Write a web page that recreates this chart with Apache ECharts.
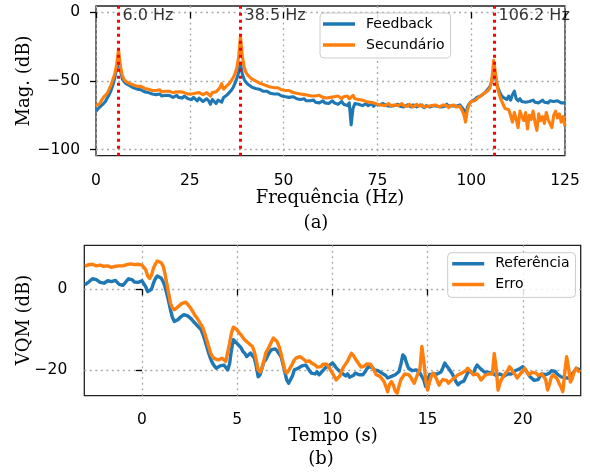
<!DOCTYPE html>
<html><head><meta charset="utf-8">
<script src="https://cdn.jsdelivr.net/npm/echarts@6/dist/echarts.min.js"></script>
<style>html,body{margin:0;padding:0;background:#fff}#c{width:590px;height:475px}</style>
</head><body><div id="c"></div>
<script>
// ---------- (a) spectrum, 0.5 Hz spacing from 0 Hz ----------
const freqStep = 0.5;
const feedback = [
-72,-70.5,-69,-68.5,-66.5,-65,-62.5,-60,-57,-53,
-48,-41,-32,-42,-48.5,-50.5,-52,-53,-53.5,-54.5,
-55,-55.5,-56,-57,-56.5,-57.5,-58,-57.5,-58.5,-59,
-59.5,-59,-60,-60.5,-59.5,-61,-60,-60.5,-61.5,-60.5,
-61,-62,-61,-60.5,-62,-61.5,-62.5,-61,-62,-63,
-62,-63.5,-62,-63,-64.5,-62.5,-63.5,-65,-64,-63,
-64.5,-67,-63.5,-65,-66.5,-64,-63,-65.5,-62,-61,
-60,-58.5,-57,-55,-52,-48.5,-44,-37,-45,-49,
-51,-52.5,-53.5,-54.5,-55,-55.5,-56.5,-56,-57,-57.5,
-58,-57.5,-58.5,-59,-58.5,-59.5,-60,-59.5,-60.5,-61,
-60.5,-61.5,-61,-62,-62.5,-61.5,-62.5,-63,-62.5,-63.5,
-64,-63,-64.5,-63.5,-64.5,-65,-64,-65.5,-64.5,-66,
-65,-64.5,-66,-65,-66.5,-65.5,-64.5,-66,-65.5,-67,
-66,-65,-67,-66.5,-68,-66,-82,-70,-66.5,-67.5,
-67,-66,-68,-67.5,-66.5,-68,-67,-66.5,-68.5,-67,
-66.5,-67.5,-68,-66.5,-67.5,-68,-67,-68.5,-67.5,-68,
-68,-67,-68.5,-67.5,-69,-68,-67.5,-68.5,-69,-67.5,
-68,-69,-68,-67.5,-68.5,-69.5,-68,-67.5,-69,-68.5,
-68,-69,-68.5,-67.5,-69,-68,-68.5,-67,-68.5,-69,
-68,-67.5,-68.5,-69,-67.5,-67,-71,-76,-69,-66.5,
-65,-64,-63.5,-62,-62.5,-61,-60,-59,-58,-56,
-54,-50,-41,-48,-54,-57.5,-60.5,-62,-63,-63.5,
-61,-64,-60,-57.5,-63,-64.5,-63,-65,-64,-65.5,
-64.5,-65,-66,-64,-65.5,-64.5,-66,-65,-64,-65.5,
-65,-66,-64.5,-65.5,-65,-66,-64.5,-65.5,-66,-65,
-66];
const secundario = [
-68,-67,-66.5,-64,-62,-60.5,-59,-56,-53,-49,
-45,-38,-27,-39,-46,-49,-50.5,-51.5,-52,-52.5,
-53,-53.5,-54,-54.5,-54,-55,-55.5,-55,-56,-56.5,
-57,-56.5,-57,-57.5,-56.5,-58,-57,-57.5,-58,-57.5,
-58,-58.5,-57.5,-58,-59,-58,-59,-58.5,-58,-59.5,
-58.5,-59.5,-58.5,-59,-60,-58.5,-59.5,-60,-59,-58.5,
-59.5,-61,-58.5,-59,-58,-57,-55,-52,-56,-54.5,
-54,-52,-50,-48,-45,-41,-33,-17,-32,-40,
-44,-46,-47,-48.5,-49,-50,-50.5,-51.5,-52,-52.5,
-53,-53.5,-53.5,-54.5,-54,-55,-55.5,-55,-56,-56.5,
-56.5,-57,-57.5,-57,-58,-58.5,-58,-59,-58.5,-59.5,
-59,-60,-59.5,-60.5,-60,-61,-60.5,-61,-61.5,-60.5,
-61.5,-62,-61,-62.5,-61.5,-62,-63,-61.5,-62.5,-61,
-62,-63,-61.5,-62.5,-61,-63,-62,-60.5,-63,-62.5,
-63.5,-62.5,-64,-63,-65,-64,-65.5,-64.5,-66,-65.5,
-67,-66,-67.5,-66.5,-68,-67,-66.5,-68,-67,-67.5,
-67,-68,-67.5,-66.5,-68,-67.5,-68.5,-67,-68,-69,
-68,-67,-68.5,-68,-67.5,-69,-68,-68.5,-67.5,-68,
-68.5,-67.5,-68,-69,-68,-67.5,-68.5,-68,-69.5,-68,
-68.5,-67.5,-69,-68,-68.5,-69,-74,-80,-71,-67,
-65,-64,-64.5,-63,-62,-61,-60,-59,-58,-57,
-55,-49,-35,-45,-55,-60,-64,-67,-70,-69,
-71,-75,-80,-73,-78,-84,-72,-76,-79,-73,
-85,-75,-78,-72,-80,-86,-74,-79,-76,-81,
-73,-78,-79,-84,-75,-72,-77,-74,-80,-76,
-83];
const peakFreqs = [6.0, 38.5, 106.2];
const freqTicks = [0, 25, 50, 75, 100, 125];
const magTicks = [-100, -50, 0];

// ---------- (b) VQM, 0.1 s spacing from -3 s ----------
const timeStart = -3.0, timeStep = 0.1;
const referencia = [
1.1,1.4,1.8,2.2,2.6,2.7,2.4,2.0,1.7,1.5,
1.5,1.8,2.1,2.2,1.9,2.0,2.2,1.8,1.2,0.8,
1.0,1.5,2.1,2.6,2.7,2.3,1.8,1.5,1.7,2.0,
2.1,1.8,0.6,-0.6,-1.0,0.0,1.5,2.6,3.3,3.5,
2.8,2.0,0.8,-1.0,-3.0,-5.2,-7.0,-8.0,-7.9,-7.5,
-7.0,-6.6,-6.3,-6.4,-6.6,-6.8,-7.4,-8.0,-8.5,-9.0,
-9.4,-10.0,-11.2,-12.6,-14.2,-15.8,-17.2,-18.3,-19.0,-19.6,
-19.6,-19.0,-18.9,-18.8,-19.4,-20.0,-18.5,-15.0,-12.5,-12.8,
-13.5,-14.0,-14.5,-15.4,-15.9,-16.7,-16.3,-15.8,-16.5,-17.1,
-19.0,-21.7,-21.2,-19.6,-18.0,-17.5,-16.5,-15.6,-15.0,-14.6,
-14.8,-15.3,-16.0,-16.7,-18.5,-20.5,-22.5,-23.3,-23.0,-21.5,
-20.0,-19.8,-19.6,-19.4,-19.0,-18.8,-18.8,-19.5,-20.2,-20.8,
-20.8,-21.0,-20.5,-21.2,-21.0,-20.2,-19.6,-19.2,-19.0,-18.6,
-18.3,-18.8,-19.5,-20.0,-20.4,-20.8,-21.2,-21.5,-21.0,-21.8,
-22.0,-21.4,-20.8,-21.0,-21.2,-21.5,-21.2,-20.6,-19.8,-19.2,
-18.8,-19.4,-20.0,-20.0,-20.2,-20.6,-20.8,-21.0,-21.4,-22.0,
-22.0,-21.6,-21.7,-21.2,-20.8,-20.4,-18.5,-16.3,-16.8,-18.4,
-19.6,-20.0,-20.2,-19.8,-20.0,-20.4,-20.8,-21.2,-22.5,-24.1,
-22.5,-21.2,-20.8,-21.0,-21.4,-21.0,-20.6,-20.5,-19.5,-18.3,
-19.0,-19.6,-20.0,-21.0,-22.0,-23.0,-23.7,-23.2,-22.8,-22.8,
-21.8,-20.8,-20.2,-20.6,-21.0,-19.6,-18.8,-19.2,-19.8,-20.2,
-20.6,-20.8,-20.6,-20.4,-20.8,-21.0,-21.4,-21.2,-21.0,-21.4,
-21.6,-21.4,-21.0,-21.2,-21.0,-20.6,-20.2,-20.0,-19.8,-19.6,
-19.2,-19.6,-20.4,-21.2,-21.8,-22.2,-22.6,-22.9,-22.4,-21.6,
-21.0,-20.8,-21.2,-21.4,-20.8,-20.2,-20.0,-20.4,-21.0,-21.4,
-21.7,-21.6,-22.0,-22.3,-22.0,-21.6,-21.0,-20.4,-19.6,-19.8,
-20.0];
const erro = [
5.7,5.9,6.1,6.0,6.2,6.0,5.8,6.1,6.0,5.8,
5.7,5.6,5.8,5.5,5.4,5.6,5.7,5.6,5.8,5.9,
5.8,5.9,6.1,6.0,6.3,6.2,6.1,6.0,6.2,6.1,
6.0,5.8,4.8,3.3,2.7,3.5,5.2,6.2,7.0,7.1,
6.6,5.9,4.0,1.5,-1.0,-3.5,-4.6,-5.1,-4.8,-4.3,
-3.9,-3.5,-3.3,-3.2,-3.6,-4.3,-5.0,-5.8,-6.6,-7.2,
-8.0,-8.8,-9.6,-11.0,-12.6,-14.2,-15.8,-16.7,-17.2,-17.5,
-17.5,-17.2,-17.1,-17.4,-17.9,-17.6,-13.4,-10.8,-9.4,-9.6,
-10.1,-10.8,-11.3,-12.0,-12.6,-13.0,-13.4,-13.6,-14.2,-15.5,
-17.5,-20.0,-20.5,-19.6,-17.8,-15.8,-15.0,-14.0,-13.0,-12.1,
-12.3,-13.0,-14.2,-15.9,-18.0,-20.0,-20.8,-20.2,-20.0,-18.5,
-17.5,-17.0,-16.9,-16.7,-17.0,-17.4,-17.9,-18.0,-17.8,-18.3,
-18.3,-18.8,-19.3,-19.6,-19.2,-18.6,-18.3,-18.6,-19.2,-20.0,
-20.8,-21.6,-22.5,-22.9,-21.4,-20.0,-19.2,-18.5,-17.8,-16.8,
-15.9,-16.4,-17.2,-17.9,-18.6,-19.3,-19.6,-19.0,-18.5,-18.3,
-18.6,-19.4,-20.2,-21.2,-21.0,-21.6,-22.0,-22.8,-24.0,-25.4,
-23.6,-22.9,-23.8,-25.2,-25.8,-24.0,-22.4,-22.0,-21.0,-20.8,
-21.2,-21.7,-22.6,-23.3,-22.0,-20.8,-19.6,-14.2,-17.9,-22.5,
-25.0,-23.0,-21.5,-20.8,-21.6,-22.6,-23.8,-23.0,-22.4,-22.0,
-22.6,-23.3,-22.8,-22.4,-22.0,-21.6,-21.2,-21.0,-20.8,-20.6,
-20.2,-19.6,-20.0,-20.6,-21.2,-21.4,-21.0,-21.6,-22.5,-22.0,
-21.4,-21.2,-21.0,-20.8,-21.0,-15.9,-19.6,-25.0,-23.2,-22.2,
-21.4,-20.8,-20.2,-19.2,-19.8,-20.6,-21.2,-22.0,-21.6,-20.8,
-20.2,-19.6,-20.4,-21.2,-20.8,-20.6,-20.4,-20.8,-21.4,-21.2,
-21.0,-21.2,-22.4,-25.0,-23.6,-21.8,-21.2,-21.4,-22.2,-23.3,
-24.2,-25.4,-21.0,-16.7,-19.4,-23.0,-22.0,-20.4,-19.6,-20.2,
-20.6];
const timeTicks = [0, 5, 10, 15, 20];
const vqmTicks = [-20, 0];

// ---------- build ----------
const BLUE = '#1f77b4', ORANGE = '#ff7f0e';
const SANS = 'DejaVu Sans', SERIF = 'DejaVu Serif';
const toXY = (arr, x0, dx) => arr.map((v, i) => [+(x0 + i * dx).toFixed(3), v]);
const minus = v => String(v).replace('-', '\u2212');

function axisCommon(ticks, labelSize, margin) {
  return {
    axisLine: { show: false },
    axisTick: { show: true, customValues: ticks, length: 6, inside: false,
                lineStyle: { color: '#000', width: 1.3 } },
    axisLabel: { customValues: ticks, color: '#000', fontFamily: SANS, fontSize: labelSize,
                 margin: margin, formatter: minus, showMinLabel: true, showMaxLabel: true },
    splitLine: { show: true, lineStyle: { color: '#a8a8a8', type: [2, 3.5], width: 1.3 } }
  };
}

const lineSeries = (name, color, data, xi, z, w) => ({
  name, type: 'line', xAxisIndex: xi, yAxisIndex: xi, data,
  showSymbol: false, symbol: 'none', sampling: 'none', z,
  lineStyle: { color, width: w, join: 'round' }, itemStyle: { color },
  emphasis: { disabled: true }, silent: true, clip: true
});

const legendBase = {
  orient: 'vertical', icon: 'rect', itemWidth: 32, itemHeight: 3.5,
  backgroundColor: 'rgba(255,255,255,0.85)', borderColor: '#cccccc', borderWidth: 1,
  borderRadius: 4, selectedMode: false,
  textStyle: { color: '#000', fontFamily: SANS, fontSize: 14, padding: [0, 0, 0, 6] }
};

const labelY = -2.7;
const chart = echarts.init(document.getElementById('c'), null, { renderer: 'canvas' });
chart.setOption({
  animation: false,
  backgroundColor: '#fff',
  grid: [
    { left: 96, top: 6, width: 469, height: 149.7, show: true, borderColor: '#222', borderWidth: 1.3, backgroundColor: 'transparent' },
    { left: 84.3, top: 245.3, width: 496.4, height: 150.4, show: true, borderColor: '#222', borderWidth: 1.3, backgroundColor: 'transparent' }
  ],
  xAxis: [
    Object.assign({ type: 'value', gridIndex: 0, min: 0, max: 125 }, axisCommon(freqTicks, 15.5, 17)),
    Object.assign({ type: 'value', gridIndex: 1, min: -3.03, max: 23.04 }, axisCommon(timeTicks, 15.5, 16))
  ],
  yAxis: [
    Object.assign({ type: 'value', gridIndex: 0, min: -104.5, max: 4.6 }, axisCommon(magTicks, 15.5, 16)),
    Object.assign({ type: 'value', gridIndex: 1, min: -26.4, max: 10.9 }, axisCommon(vqmTicks, 15.5, 17))
  ],
  legend: [
    Object.assign({}, legendBase, { left: 320, top: 13, padding: [4, 6, 6, 3], itemGap: 7,
      data: ['Feedback', 'Secundário'] }),
    Object.assign({}, legendBase, { left: 447.7, top: 252.7, padding: [4, 6, 6, 4.5], itemGap: 6.7,
      data: ['Referência', 'Erro'] })
  ],
  series: [
    lineSeries('Feedback', BLUE, toXY(feedback, 0, freqStep), 0, 2, 3.1),
    lineSeries('Secundário', ORANGE, toXY(secundario, 0, freqStep), 0, 3, 3.1),
    {
      type: 'scatter', xAxisIndex: 0, yAxisIndex: 0, z: 5, silent: true,
      symbolSize: 0, data: peakFreqs.map(f => [f, labelY]),
      label: { show: true, position: 'right', distance: 4, color: '#000',
               fontFamily: SANS, fontSize: 16,
               formatter: p => p.value[0].toFixed(1) + ' Hz' },
      markLine: { silent: true, symbol: ['none', 'none'], animation: false,
                  lineStyle: { color: '#ff0000', type: [3, 4], width: 3 },
                  label: { show: false }, emphasis: { disabled: true },
                  data: peakFreqs.map(f => ({ xAxis: f })) }
    },
    lineSeries('Referência', BLUE, toXY(referencia, timeStart, timeStep), 1, 2, 3.4),
    lineSeries('Erro', ORANGE, toXY(erro, timeStart, timeStep), 1, 3, 3.4)
  ],
  graphic: [
    { type: 'text', x: 24, y: 81, rotation: Math.PI / 2, style: { text: 'Mag. (dB)', font: '18px "DejaVu Serif"', fill: '#000', align: 'center', verticalAlign: 'middle' } },
    { type: 'text', x: 330, y: 198, style: { text: 'Frequência (Hz)', font: '18px "DejaVu Serif"', fill: '#000', align: 'center', verticalAlign: 'middle' } },
    { type: 'text', x: 316, y: 223, style: { text: '(a)', font: '18px "DejaVu Serif"', fill: '#000', align: 'center', verticalAlign: 'middle' } },
    { type: 'text', x: 24, y: 320, rotation: Math.PI / 2, style: { text: 'VQM (dB)', font: '18px "DejaVu Serif"', fill: '#000', align: 'center', verticalAlign: 'middle' } },
    { type: 'text', x: 333, y: 436, style: { text: 'Tempo (s)', font: '18px "DejaVu Serif"', fill: '#000', align: 'center', verticalAlign: 'middle' } },
    { type: 'text', x: 321, y: 459, style: { text: '(b)', font: '18px "DejaVu Serif"', fill: '#000', align: 'center', verticalAlign: 'middle' } }
  ]
});
</script></body></html>
